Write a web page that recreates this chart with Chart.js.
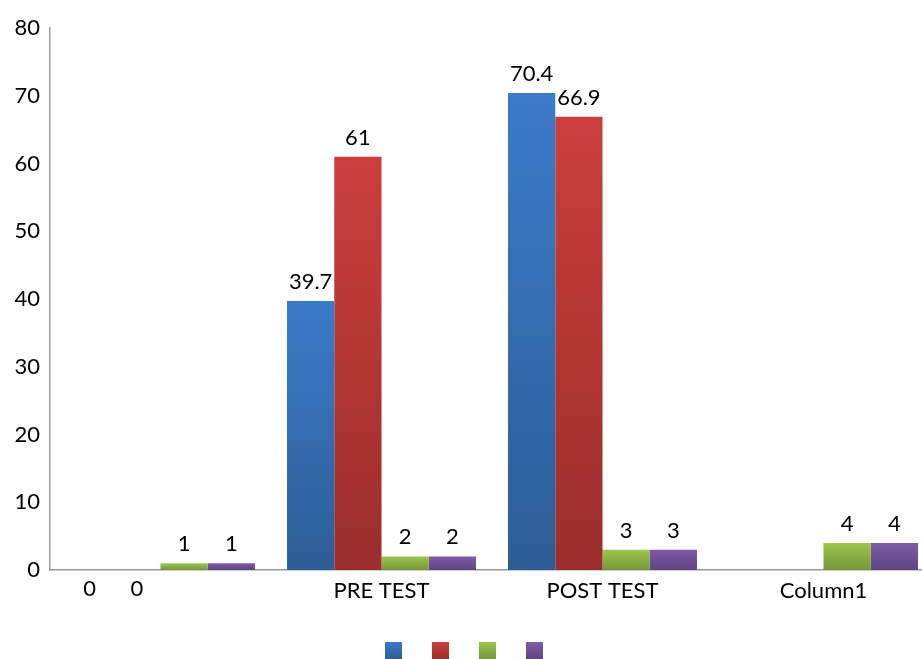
<!DOCTYPE html>
<html>
<head>
<meta charset="utf-8">
<script src="https://cdn.jsdelivr.net/npm/chart.js@4"></script>
<style>
  html, body { margin: 0; padding: 0; background: #fff; overflow: hidden; }
  #wrap { width: 934px; height: 659px; }
</style>
</head>
<body>
<div id="wrap"><canvas id="barChart"></canvas></div>
<script>
const categories = ['', 'PRE TEST', 'POST TEST', 'Column1'];
const seriesBlue = [0, 39.7, 70.4, null];
const seriesRed = [0, 61, 66.9, null];
const seriesGreen = [1, 2, 3, 4];
const seriesPurple = [1, 2, 3, 4];
const yTicks = [0, 10, 20, 30, 40, 50, 60, 70, 80];

// top / bottom shade of each series
const shades = [
  ['#3b7bc9', '#2c5d96'],
  ['#cb3e3b', '#9a2e2c'],
  ['#9dc64b', '#76963a'],
  ['#7f5aa8', '#5e4580']
];

const FONT = 'Lato, "Liberation Sans", sans-serif';
Chart.defaults.font.family = FONT;
Chart.defaults.color = '#000';

function barFill(shade) {
  return function (c) {
    const chart = c.chart;
    if (!chart.chartArea || c.raw == null) return shade[0];
    const y = chart.scales.y;
    const top = y.getPixelForValue(c.raw);
    const bottom = y.getPixelForValue(0);
    if (bottom - top < 1) return shade[0];
    const g = chart.ctx.createLinearGradient(0, top, 0, bottom);
    g.addColorStop(0, shade[0]);
    g.addColorStop(1, shade[1]);
    return g;
  };
}

// value labels over each bar, zero values sit under the axis
const valueLabels = {
  id: 'valueLabels',
  afterDatasetsDraw(chart) {
    const ctx = chart.ctx;
    ctx.save();
    ctx.font = '22px ' + FONT;
    ctx.fillStyle = '#000';
    ctx.textAlign = 'center';
    ctx.textBaseline = 'alphabetic';
    chart.data.datasets.forEach((ds, i) => {
      chart.getDatasetMeta(i).data.forEach((bar, j) => {
        const v = ds.data[j];
        if (v == null) return;
        if (v <= 0) {
          ctx.fillText(String(v), bar.x, bar.base + 26);
        } else {
          ctx.fillText(String(v), bar.x, bar.y - 12);
        }
      });
    });
    ctx.restore();
  }
};

const data = {
  labels: categories,
  datasets: [seriesBlue, seriesRed, seriesGreen, seriesPurple].map((vals, i) => ({
    label: '',
    data: vals,
    backgroundColor: barFill(shades[i]),
    borderWidth: 0,
    barPercentage: 1,
    categoryPercentage: 0.855
  }))
};

new Chart(document.getElementById('barChart'), {
  type: 'bar',
  data: data,
  plugins: [valueLabels],
  options: {
    responsive: true,
    maintainAspectRatio: false,
    animation: false,
    layout: { padding: { top: 28, bottom: -10, left: 0, right: 0 } },
    plugins: {
      tooltip: { enabled: false },
      legend: {
        position: 'bottom',
        labels: {
          boxWidth: 17,
          boxHeight: 17,
          padding: 24,
          font: { size: 12 },
          generateLabels(chart) {
            const ctx = chart.ctx;
            const h = chart.height;
            return shades.map((s, i) => {
              const g = ctx.createLinearGradient(0, h - 17, 0, h);
              g.addColorStop(0, s[0]);
              g.addColorStop(1, s[1]);
              return { text: '', fillStyle: g, strokeStyle: g, lineWidth: 0, datasetIndex: i };
            });
          }
        }
      }
    },
    scales: {
      x: {
        grid: { display: false },
        border: { display: true, color: '#9a9a9a', width: 1.5 },
        ticks: { font: { size: 22 }, color: '#000', padding: 0, maxRotation: 0 },
        afterFit(scale) { scale.height = 48; }
      },
      y: {
        min: 0,
        max: 80,
        grid: { display: false },
        border: { display: true, color: '#9a9a9a', width: 1.5 },
        afterBuildTicks(scale) { scale.ticks = yTicks.map(v => ({ value: v })); },
        ticks: { font: { size: 22 }, color: '#000', padding: 2 },
        afterFit(scale) { scale.width = 50; }
      }
    }
  }
});
</script>
</body>
</html>
